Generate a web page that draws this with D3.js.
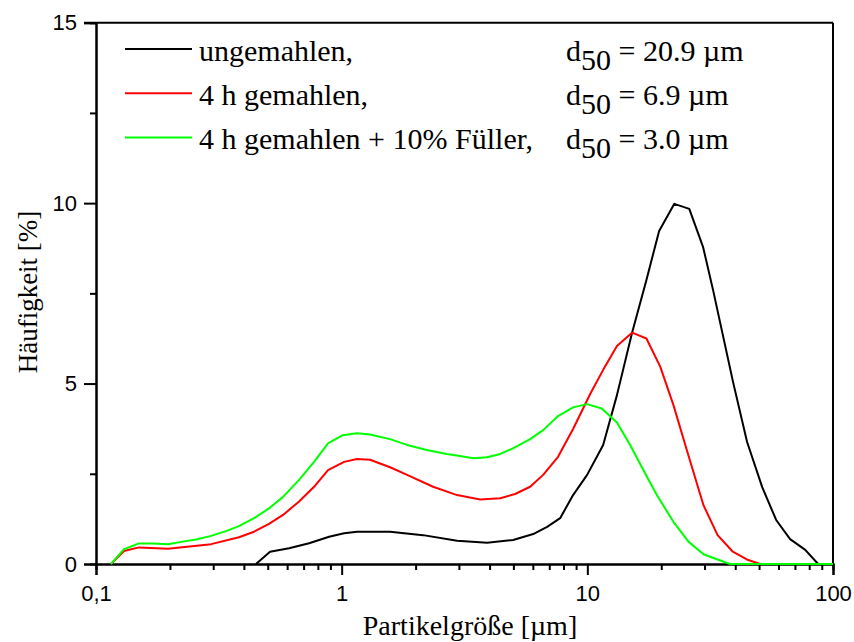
<!DOCTYPE html>
<html>
<head>
<meta charset="utf-8">
<script src="https://cdn.jsdelivr.net/npm/d3@7"></script>
<style>
  html, body { margin: 0; padding: 0; background: #fff; }
  svg { display: block; }
</style>
</head>
<body>
<svg id="chart" width="854" height="642"></svg>
<script>
// ---- data (particle size in µm, frequency in %) ----
const seriesNames = ["ungemahlen,", "4 h gemahlen,", "4 h gemahlen + 10% Füller,"];
const d50Values = ["20.9", "6.9", "3.0"];
const seriesColors = ["#000000", "#ff0000", "#00ff00"];

const sizeUngemahlen = [0.448, 0.511, 0.611, 0.737, 0.889, 1.023, 1.155, 1.574, 2.145, 2.951, 3.91, 4.99, 6.02, 6.86, 7.75, 8.75, 9.98, 11.6, 13.2, 15.2, 17.4, 19.6, 22.6, 26.0, 29.6, 32.5, 39.2, 44.7, 51.5, 58.7, 66.9, 77.1, 87.0];
const freqUngemahlen = [0, 0.34, 0.435, 0.574, 0.756, 0.85, 0.895, 0.895, 0.80, 0.646, 0.59, 0.665, 0.83, 1.03, 1.27, 1.91, 2.47, 3.30, 4.68, 6.40, 7.87, 9.23, 9.98, 9.84, 8.78, 7.59, 5.04, 3.38, 2.13, 1.22, 0.69, 0.39, 0];

const sizeGemahlen = [0.1151, 0.130, 0.1496, 0.1965, 0.294, 0.382, 0.44, 0.506, 0.577, 0.671, 0.772, 0.880, 1.023, 1.155, 1.305, 1.574, 1.846, 2.356, 2.951, 3.66, 4.42, 5.08, 5.85, 6.61, 7.60, 8.75, 10.27, 11.6, 13.2, 15.2, 17.4, 19.8, 22.4, 25.4, 29.7, 33.9, 39.1, 44.6, 50.5];
const freqGemahlen = [0, 0.36, 0.46, 0.42, 0.55, 0.74, 0.895, 1.11, 1.36, 1.73, 2.14, 2.60, 2.83, 2.91, 2.89, 2.68, 2.47, 2.14, 1.91, 1.79, 1.82, 1.94, 2.14, 2.47, 2.97, 3.74, 4.71, 5.38, 6.04, 6.41, 6.25, 5.47, 4.41, 3.16, 1.63, 0.80, 0.34, 0.125, 0];

const sizeFueller = [0.1151, 0.130, 0.1496, 0.170, 0.1965, 0.2254, 0.2554, 0.294, 0.338, 0.382, 0.44, 0.506, 0.577, 0.671, 0.772, 0.880, 1.010, 1.155, 1.305, 1.574, 1.846, 2.22, 2.68, 3.03, 3.44, 3.91, 4.42, 5.00, 5.85, 6.61, 7.60, 8.75, 9.98, 11.45, 13.2, 14.94, 16.92, 19.19, 22.4, 25.8, 29.7, 33.9, 38.1, 44.6, 51.5, 58.7, 66.9, 77.1, 87.0, 100];
const freqFueller = [0, 0.41, 0.57, 0.57, 0.55, 0.62, 0.68, 0.78, 0.91, 1.05, 1.27, 1.54, 1.86, 2.33, 2.83, 3.34, 3.57, 3.62, 3.59, 3.46, 3.30, 3.16, 3.05, 2.99, 2.93, 2.96, 3.05, 3.21, 3.46, 3.71, 4.10, 4.34, 4.43, 4.31, 3.92, 3.30, 2.60, 1.91, 1.17, 0.62, 0.27, 0.125, 0, 0, 0, 0, 0, 0, 0, 0];

const xMajorTicks = [0.1, 1, 10, 100];
const xMajorLabels = ["0,1", "1", "10", "100"];
const xMinorTicks = [0.2, 0.3, 0.4, 0.5, 0.6, 0.7, 0.8, 0.9, 2, 3, 4, 5, 6, 7, 8, 9, 20, 30, 40, 50, 60, 70, 80, 90];
const yMajorTicks = [0, 5, 10, 15];
const yMinorTicks = [2.5, 7.5, 12.5];
const xTitle = "Partikelgröße [µm]";
const yTitle = "Häufigkeit [%]";

// ---- layout ----
const svg = d3.select("#chart");
const plotLeft = 96, plotRight = 833, plotTop = 22.7, plotBottom = 564;
const x = d3.scaleLog().domain([0.1, 100]).range([plotLeft, plotRight]);
const y = d3.scaleLinear().domain([0, 15]).range([plotBottom, plotTop]);

const sansFont = "'Liberation Sans', Arial, sans-serif";
const serifFont = "'Liberation Serif', 'Times New Roman', serif";

function styleAxis(g) {
  g.selectAll(".domain").attr("stroke", "#000").attr("stroke-width", 2);
  g.selectAll(".tick line").attr("stroke", "#000").attr("stroke-width", 2);
  g.selectAll("text").attr("font-family", sansFont).attr("font-size", 22).attr("fill", "#000");
}

// frame (top and right)
svg.append("line").attr("x1", plotLeft - 12).attr("x2", plotRight).attr("y1", plotTop).attr("y2", plotTop)
  .attr("stroke", "#000").attr("stroke-width", 2);
svg.append("line").attr("x1", plotRight).attr("x2", plotRight).attr("y1", plotTop).attr("y2", plotBottom)
  .attr("stroke", "#000").attr("stroke-width", 2);

// x axis
svg.append("g").attr("transform", `translate(0,${plotBottom})`)
  .call(d3.axisBottom(x).tickValues(xMinorTicks).tickSize(6).tickFormat(""))
  .call(styleAxis);
svg.append("g").attr("transform", `translate(0,${plotBottom})`)
  .call(d3.axisBottom(x).tickValues(xMajorTicks).tickSize(11).tickPadding(10)
        .tickFormat((d, i) => xMajorLabels[i]))
  .call(styleAxis);

// y axis
svg.append("g").attr("transform", `translate(${plotLeft},0)`)
  .call(d3.axisLeft(y).tickValues(yMinorTicks).tickSize(6).tickFormat(""))
  .call(styleAxis);
svg.append("g").attr("transform", `translate(${plotLeft},0)`)
  .call(d3.axisLeft(y).tickValues(yMajorTicks).tickSize(12).tickPadding(7)
        .tickFormat(d3.format("d")))
  .call(styleAxis);

// axis titles
svg.append("text").attr("x", 470).attr("y", 635)
  .attr("text-anchor", "middle").attr("font-family", serifFont).attr("font-size", 28)
  .attr("fill", "#000").text(xTitle);
svg.append("text").attr("transform", `translate(37,292) rotate(-90)`)
  .attr("text-anchor", "middle").attr("font-family", serifFont).attr("font-size", 27)
  .attr("fill", "#000").text(yTitle);

// series
const allSeries = [
  sizeUngemahlen.map((s, i) => [s, freqUngemahlen[i]]),
  sizeGemahlen.map((s, i) => [s, freqGemahlen[i]]),
  sizeFueller.map((s, i) => [s, freqFueller[i]])
];
const line = d3.line().x(d => x(d[0])).y(d => y(d[1]));
allSeries.forEach((data, i) => {
  svg.append("path").datum(data).attr("d", line)
    .attr("fill", "none").attr("stroke", seriesColors[i]).attr("stroke-width", 2)
    .attr("stroke-linejoin", "round");
});

// legend
const legendY0 = 49, legendDy = 44.3;
seriesNames.forEach((name, i) => {
  const ly = legendY0 + i * legendDy;
  svg.append("line").attr("x1", 125).attr("x2", 192).attr("y1", ly).attr("y2", ly)
    .attr("stroke", seriesColors[i]).attr("stroke-width", 2);
  svg.append("text").attr("x", 199).attr("y", ly + 11.5)
    .attr("font-family", serifFont).attr("font-size", 30).attr("fill", "#000").text(name);
  const t = svg.append("text").attr("x", 566).attr("y", ly + 11.5)
    .attr("font-family", serifFont).attr("font-size", 30).attr("fill", "#000");
  t.append("tspan").text("d");
  t.append("tspan").attr("dy", 9).text("50");
  t.append("tspan").attr("dy", -9).text(" = " + d50Values[i] + " µm");
});
</script>
</body>
</html>
